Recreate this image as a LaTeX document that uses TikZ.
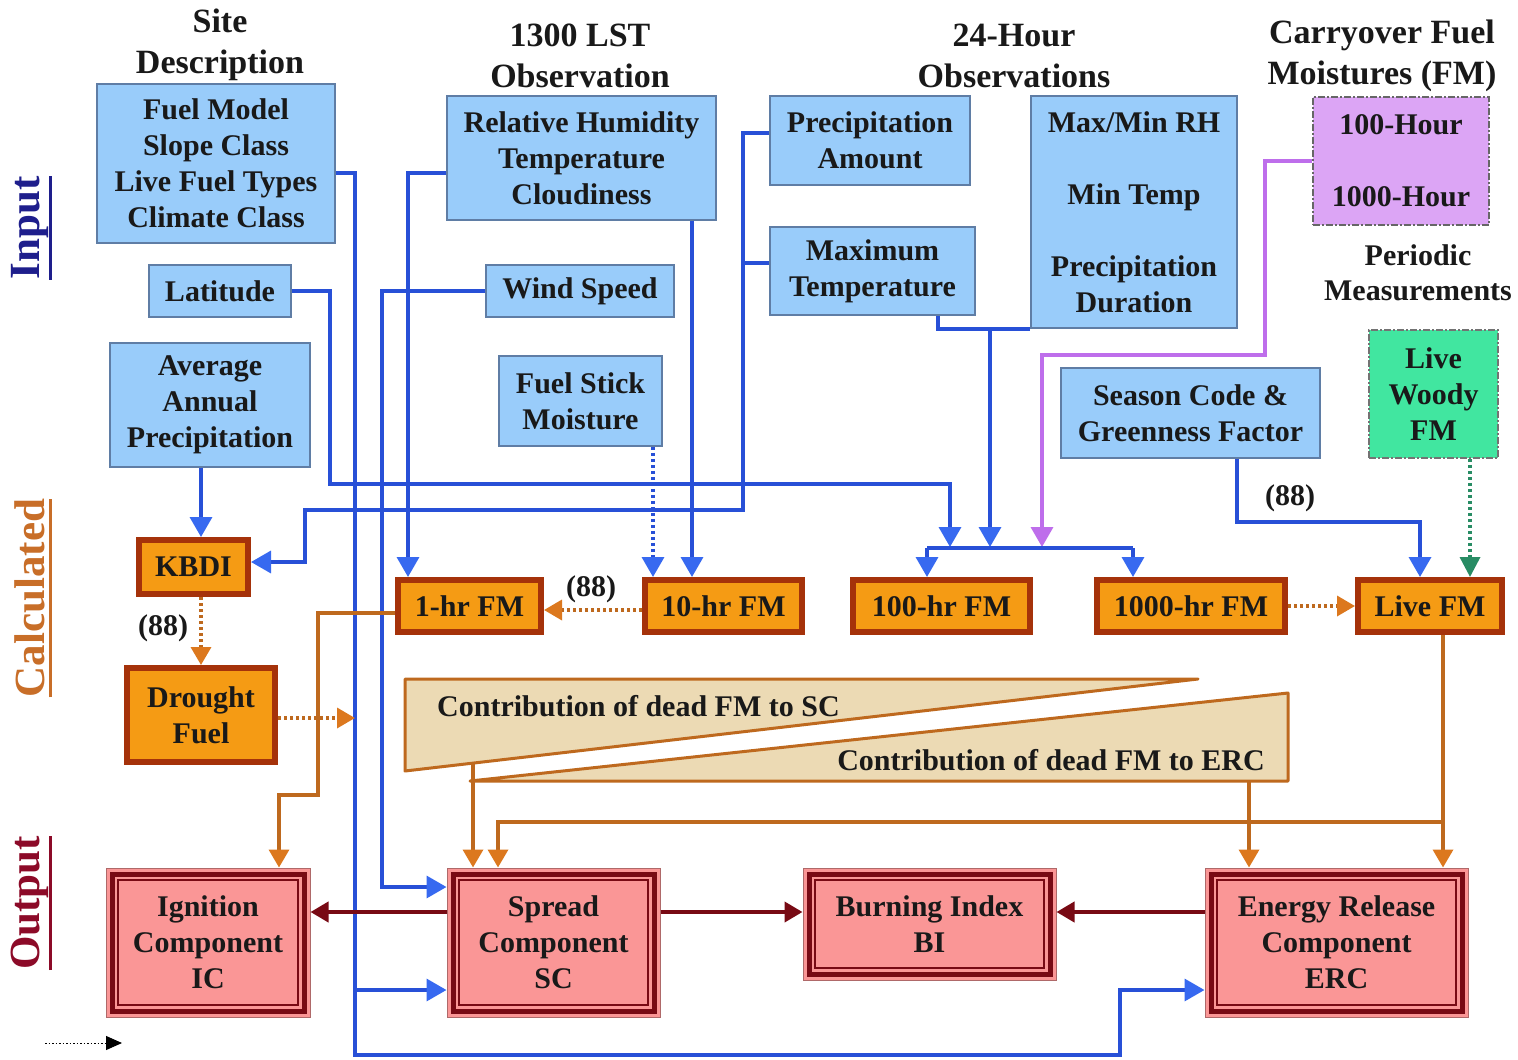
\documentclass[tikz,border=0pt]{standalone}
\usepackage{fontspec}
\setmainfont{Liberation Serif}
\usetikzlibrary{arrows.meta,calc}
\definecolor{boxblue}{RGB}{153,204,250}
\definecolor{boxblueedge}{RGB}{95,125,165}
\definecolor{lineblue}{RGB}{40,80,215}
\definecolor{tipblue}{RGB}{55,105,240}
\definecolor{orfill}{RGB}{245,155,20}
\definecolor{oredge}{RGB}{165,50,10}
\definecolor{pinkfill}{RGB}{250,150,150}
\definecolor{darkred}{RGB}{120,10,20}
\definecolor{brline}{RGB}{190,105,30}
\definecolor{ortip}{RGB}{220,120,30}
\definecolor{purfill}{RGB}{220,165,245}
\definecolor{purline}{RGB}{190,110,235}
\definecolor{grfill}{RGB}{65,230,160}
\definecolor{grline}{RGB}{40,140,100}
\definecolor{tanfill}{RGB}{236,218,180}
\definecolor{inputc}{RGB}{30,30,140}
\definecolor{calcc}{RGB}{200,110,40}
\definecolor{outc}{RGB}{140,10,40}
\tikzset{
  txt/.style={font=\fontsize{30}{36}\selectfont\bfseries, align=center, text=black!90, inner sep=0pt},
  hdr/.style={font=\fontsize{34}{41}\selectfont\bfseries, align=center, text=black!90, inner sep=0pt},
  seclbl/.style={rotate=90, font=\fontsize{43}{50}\selectfont\bfseries, inner sep=0pt},
  bluebox/.style={txt, fill=boxblue, draw=boxblueedge, line width=1.5pt},
  purbox/.style={txt, fill=purfill, draw=black!60, line width=1.5pt, dash pattern=on 7pt off 2pt on 2pt off 2pt},
  grbox/.style={txt, fill=grfill, draw=black!55, line width=1.5pt, dash pattern=on 7pt off 2pt on 2pt off 2pt},
  orbox/.style={txt, fill=orfill, draw=oredge, line width=6pt},
  pkbox/.style={txt, fill=pinkfill, draw=black!30!pinkfill, line width=1pt,
    path picture={
      \draw[darkred, line width=5pt] ([shift={(6pt,6pt)}]path picture bounding box.south west) rectangle ([shift={(-6pt,-6pt)}]path picture bounding box.north east);
      \draw[darkred, line width=1.5pt] ([shift={(12pt,12pt)}]path picture bounding box.south west) rectangle ([shift={(-12pt,-12pt)}]path picture bounding box.north east);}},
  blueln/.style={draw=lineblue, line width=3.5pt},
  purln/.style={draw=purline, line width=3.5pt},
  grln/.style={draw=grline, line width=3.5pt},
  orln/.style={draw=brline, line width=3.5pt},
  brln/.style={draw=brline, line width=3.5pt},
  redln/.style={draw=darkred, line width=4pt},
  dotln/.style={dash pattern=on 3pt off 3pt},
  ulin/.style={line width=3pt},
  arB/.style={-{Triangle[width=22pt,length=20pt,color=tipblue]}},
  arP/.style={-{Triangle[width=22pt,length=20pt,color=purline]}},
  arG/.style={-{Triangle[width=20pt,length=20pt,color=grline]}},
  arO/.style={-{Triangle[width=20pt,length=18pt,color=ortip]}},
  arR/.style={-{Triangle[width=20pt,length=18pt,color=darkred]}},
}
\begin{document}
\begin{tikzpicture}[x=1pt,y=-1pt]
\useasboundingbox (0,0) rectangle (1518,1060);
\fill[white] (0,0) rectangle (1518,1060);

% section labels
\coordinate (ulx) at (50,0);
\node[seclbl, text=inputc] (lblin) at (30,228) {Input};
\node[seclbl, text=calcc] (lblcalc) at (30,598) {Calculated};
\node[seclbl, text=outc] (lblout) at (30,903) {Output};
\draw[ulin, inputc] (lblin.south west -| ulx) -- (lblin.south east -| ulx);
\draw[ulin, calcc] (lblcalc.south west -| ulx) -- (lblcalc.south east -| ulx);
\draw[ulin, outc] (lblout.south west -| ulx) -- (lblout.south east -| ulx);

% headers
\node[hdr] (hsite) at (220,45) {Site\\Description};
\node[hdr] (hlst) at (580,56) {1300 LST\\Observation};
\node[hdr] (h24) at (1014,56) {24-Hour\\Observations};
\node[hdr] (hco) at (1382,56) {Carryover Fuel\\Moistures (FM)};
\node[txt, font=\fontsize{30}{35}\selectfont\bfseries] (hper) at (1418,272.5) {Periodic\\Measurements};

% contribution shapes
\coordinate (tA1) at (405,679);
\coordinate (tA2) at (1198,679);
\coordinate (tA3) at (405,771);
\coordinate (tB1) at (470,781);
\coordinate (tB2) at (1288,781);
\coordinate (tB3) at (1288,693);
\filldraw[fill=tanfill, draw=brline, line width=3pt, line join=round] (tA1) -- (tA2) -- (tA3) -- cycle;
\filldraw[fill=tanfill, draw=brline, line width=3pt, line join=round] (tB1) -- (tB2) -- (tB3) -- cycle;
\node[txt, anchor=west] (csc) at (437,706) {Contribution of dead FM to SC};
\node[txt, anchor=east] (cerc) at (1265,760) {Contribution of dead FM to ERC};

% input boxes
\node[bluebox, minimum width=238pt, minimum height=159pt] (site) at (216,163.5) {Fuel Model\\Slope Class\\Live Fuel Types\\Climate Class};
\node[bluebox, minimum width=142pt, minimum height=52pt] (lat) at (220,291) {Latitude};
\node[bluebox, minimum width=200pt, minimum height=124pt] (aap) at (210,405) {Average\\Annual\\Precipitation};
\node[bluebox, minimum width=269pt, minimum height=124pt] (rh) at (581.5,158) {Relative Humidity\\Temperature\\Cloudiness};
\node[bluebox, minimum width=188pt, minimum height=52pt] (wind) at (580,291) {Wind Speed};
\node[bluebox, minimum width=163pt, minimum height=90pt] (fsm) at (580.5,401) {Fuel Stick\\Moisture};
\node[bluebox, minimum width=200pt, minimum height=89pt] (pa) at (870,140.5) {Precipitation\\Amount};
\node[bluebox, minimum width=205pt, minimum height=88pt] (mt) at (872.5,271) {Maximum\\Temperature};
\node[bluebox, minimum width=206pt, minimum height=232pt] (mm) at (1134,212) {Max/Min RH\\[36pt]Min Temp\\[36pt]Precipitation\\Duration};
\node[purbox, minimum width=176pt, minimum height=128pt] (co) at (1401,161) {100-Hour\\[36pt]1000-Hour};
\node[bluebox, minimum width=259pt, minimum height=90pt] (sc) at (1190.5,413) {Season Code \&\\Greenness Factor};
\node[grbox, minimum width=129pt, minimum height=128pt] (lw) at (1433.5,394) {Live\\Woody\\FM};

% calculated boxes
\node[orbox, minimum width=109pt, minimum height=54pt] (kbdi) at (193.5,567) {KBDI};
\node[orbox, minimum width=148pt, minimum height=94pt] (df) at (201,715) {Drought\\Fuel};
\node[orbox, minimum width=143pt, minimum height=52pt] (h1) at (469.5,606) {1-hr FM};
\node[orbox, minimum width=157pt, minimum height=52pt] (h10) at (723.5,606) {10-hr FM};
\node[orbox, minimum width=177pt, minimum height=52pt] (h100) at (941.5,606) {100-hr FM};
\node[orbox, minimum width=188pt, minimum height=52pt] (h1000) at (1191,606) {1000-hr FM};
\node[orbox, minimum width=144pt, minimum height=52pt] (live) at (1430,606) {Live FM};

% output boxes
\node[pkbox, minimum width=204pt, minimum height=149pt] (ic) at (208,942.5) {Ignition\\Component\\IC};
\node[pkbox, minimum width=213pt, minimum height=149pt] (spc) at (553.5,942.5) {Spread\\Component\\SC};
\node[pkbox, minimum width=253pt, minimum height=112pt] (bi) at (929.5,924) {Burning Index\\BI};
\node[pkbox, minimum width=263pt, minimum height=149pt] (erc) at (1336.5,942.5) {Energy Release\\Component\\ERC};

% labels (88)
\node[txt] (l88a) at (591,589) {(88)};
\node[txt] (l88b) at (163,628) {(88)};
\node[txt] (l88c) at (1290,498) {(88)};

% blue connectors
\draw[blueln, arB] ([yshift=-9.5pt]site.east) -| (355,1055) -| (1120,990) -- ([yshift=-47.5pt]erc.west);
\draw[blueln, arB] (355,990) -- ([yshift=-47.5pt]spc.west);
\draw[blueln, arB] (lat.east) -| (330,484) -| (950,547);
\draw[blueln, arB] ([yshift=-15pt]rh.west) -| ([xshift=-61.5pt]h1.north);
\draw[blueln, arB] (wind.west) -| (382,887) -- ([yshift=55.5pt]spc.west);
\draw[blueln, arB] ([xshift=110.5pt]rh.south) -- ([xshift=-31.5pt]h10.north);
\draw[blueln, dotln, arB] ([xshift=72.5pt]fsm.south) -- ([xshift=-70.5pt]h10.north);
\draw[blueln, arB] ([yshift=7.5pt]pa.west) -| (743,510) -| (305,562) -- ([yshift=5pt]kbdi.east);
\draw[blueln] ([yshift=8pt]mt.west) -- (743,263);
\draw[blueln] ([xshift=65.5pt]mt.south) |- (mm.south west);
\draw[blueln, arB] (990,328) -- (990,547);
\draw[purln, arP] (co.west) -| (1265,355) -| (1042,547);
\draw[blueln] (927,548) -- (1133,548);
\draw[blueln, arB] (927,548) -- ([xshift=-14.5pt]h100.north);
\draw[blueln, arB] (1133,548) -- ([xshift=-58pt]h1000.north);
\draw[blueln, arB] ([xshift=46.5pt]sc.south) |- (1420,522) -- ([xshift=-10pt]live.north);
\draw[grln, dotln, arG] ([xshift=36.5pt]lw.south) -- ([xshift=40pt]live.north);
\draw[blueln, arB] ([xshift=-9pt]aap.south) -- ([xshift=7.5pt]kbdi.north);

% orange dotted
\draw[orln, dotln, arO] ([yshift=-4pt]h10.west) -- ([yshift=-4pt]h1.east);
\draw[orln, dotln, arO] ([xshift=7.5pt]kbdi.south) -- (df.north);
\coordinate (dfend) at (355,718);
\draw[orln, dotln, arO] ([yshift=-3pt]df.east) -- (dfend);
\draw[orln, dotln, arO] (h1000.east) -- (live.west);

% orange solid
\draw[brln, arO] ([yshift=-7pt]h1.west) -| (318,795) -| ([xshift=71pt]ic.north);
\draw[brln, arO] (473,763) -- ([xshift=-80.5pt]spc.north);
\draw[brln, arO] ([xshift=13pt]live.south) -- ([xshift=106.5pt]erc.north);
\draw[brln, arO] (1443,822) -| ([xshift=-55.5pt]spc.north);
\draw[brln, arO] (1249,781) -- ([xshift=-87.5pt]erc.north);

% dark red
\draw[redln, arR] ([yshift=30.5pt]spc.west) -- ([yshift=30.5pt]ic.east);
\draw[redln, arR] ([yshift=30.5pt]spc.east) -- ([yshift=12pt]bi.west);
\draw[redln, arR] ([yshift=30.5pt]erc.west) -- ([yshift=12pt]bi.east);

% legend
\coordinate (lg1) at (45,1043);
\coordinate (lg2) at (122,1043);
\draw[line width=1pt, dash pattern=on 1.5pt off 2pt, -{Triangle[width=14pt,length=16pt]}] (lg1) -- (lg2);
\end{tikzpicture}
\end{document}
